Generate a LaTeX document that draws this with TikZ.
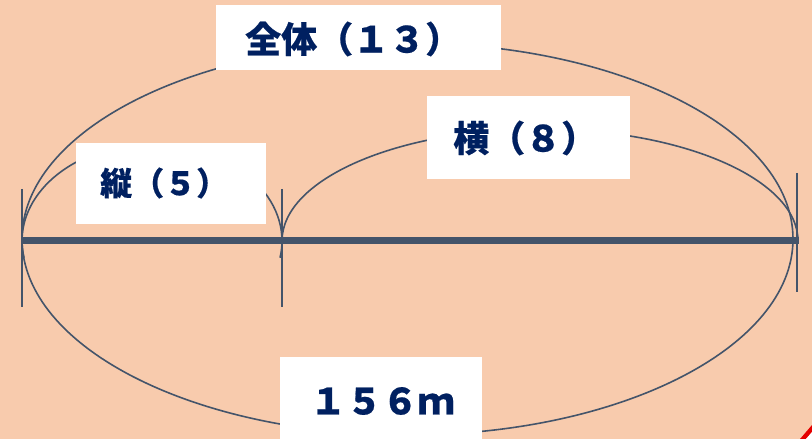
\documentclass[tikz,border=0pt]{standalone}
\usepackage{fontspec}
\newfontfamily\jp{Noto Sans CJK JP}[BoldFeatures={FakeBold=0.5}]
\definecolor{bg}{HTML}{F8CBAD}
\definecolor{ln}{HTML}{44546A}
\definecolor{tx}{HTML}{002060}
\tikzset{
  box/.style={fill=white, draw=none, inner sep=0pt},
  lblbig/.style={text=tx, font=\jp\bfseries\fontsize{36}{40}\selectfont, inner sep=0pt, anchor=west},
  lblsmall/.style={text=tx, font=\jp\bfseries\fontsize{32}{36}\selectfont, inner sep=0pt, anchor=west},
  thin/.style={draw=ln, line width=1.6pt},
  bar/.style={draw=ln, line width=7pt},
}
\begin{document}
\begin{tikzpicture}[x=1pt,y=1pt]
\useasboundingbox (0,0) rectangle (812,439);
\fill[bg] (0,0) rectangle (812,439);
% red corner
\fill[red!90!black] (800,0) -- (812,14) -- (812,7) -- (806,0) -- cycle;
\fill[white] (806,0) -- (812,7) -- (812,0) -- cycle;
% coordinates
\coordinate (L) at (22,198);
\coordinate (M) at (282,198);
\coordinate (R) at (799,198);
% ellipses / arcs
\draw[thin] (407.5,200) ellipse [x radius=385.5, y radius=196];
\draw[thin] (24,181.2) arc[start angle=190, end angle=-10, x radius=130, y radius=97];
\draw[thin] (M) arc[start angle=180, end angle=0, x radius=258, y radius=112];
% ticks
\draw[thin] (22,250) -- (22,132);
\draw[thin] (282,250) -- (282,132);
\draw[thin] (797,266) -- (797,147);
% main bar
\draw[bar] (L) -- (R);
% boxes
\node[box, minimum width=285, minimum height=65] (bAll) at (358.5,401.5) {};
\node[box, minimum width=190, minimum height=81] (bTate) at (171,255.5) {};
\node[box, minimum width=203, minimum height=83] (bYoko) at (528.5,301.5) {};
\node[box, minimum width=202, minimum height=84] (bLen) at (381,40) {};
% labels
\node[lblbig] (tAll) at (245,400) {全体（１３）};
\node[lblsmall] (tTate) at (100,256) {縦（５）};
\node[lblbig] (tYoko) at (453,301) {横（８）};
\node[lblbig] (tLen) at (310,38) {１５６ｍ};
\end{tikzpicture}
\end{document}
